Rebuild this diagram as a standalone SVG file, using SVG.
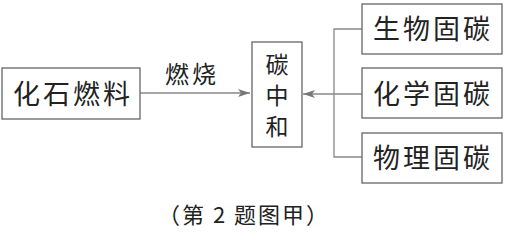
<svg xmlns="http://www.w3.org/2000/svg" width="505" height="232" viewBox="0 0 505 232">
<defs>
<style>
.box{fill:#fff;stroke:#666;stroke-width:1.3}
.t{font-family:"Noto Sans CJK SC",sans-serif;fill:#222}
.big{font-size:27px;letter-spacing:3px}
.ln{fill:none;stroke:#888;stroke-width:1.3}
</style>
<marker id="ah" viewBox="0 0 12 8" refX="12" refY="4" markerWidth="12" markerHeight="8" markerUnits="userSpaceOnUse" orient="auto">
<path d="M0,0 L12,4 L0,8 L3,4 Z" fill="#777"/>
</marker>
</defs>
<g id="connectors">
<line class="ln" x1="140" y1="93" x2="250" y2="93" marker-end="url(#ah)"/>
<line class="ln" x1="362" y1="94" x2="303" y2="94" marker-end="url(#ah)"/>
<polyline class="ln" points="362,29 334,29 334,157 362,157"/>
<text class="t" x="165" y="83" font-size="24" letter-spacing="3">燃烧</text>
</g>
<g id="fossil">
<rect class="box" x="2" y="68" width="138" height="51"/>
<text class="t big" x="13" y="104">化石燃料</text>
</g>
<g id="neutral">
<rect class="box" x="252" y="42" width="50" height="105"/>
<text class="t" x="277" y="73" font-size="23" text-anchor="middle">碳</text>
<text class="t" x="277" y="104" font-size="23" text-anchor="middle">中</text>
<text class="t" x="277" y="135" font-size="23" text-anchor="middle">和</text>
</g>
<g id="bio">
<rect class="box" x="362" y="4" width="140" height="50"/>
<text class="t big" x="373" y="39">生物固碳</text>
</g>
<g id="chem">
<rect class="box" x="362" y="68" width="140" height="50"/>
<text class="t big" x="373" y="104">化学固碳</text>
</g>
<g id="phys">
<rect class="box" x="362" y="133" width="140" height="50"/>
<text class="t big" x="373" y="168">物理固碳</text>
</g>
<text class="t" x="244" y="223" font-size="22" letter-spacing="2" text-anchor="middle">（第 2 题图甲）</text>
</svg>
